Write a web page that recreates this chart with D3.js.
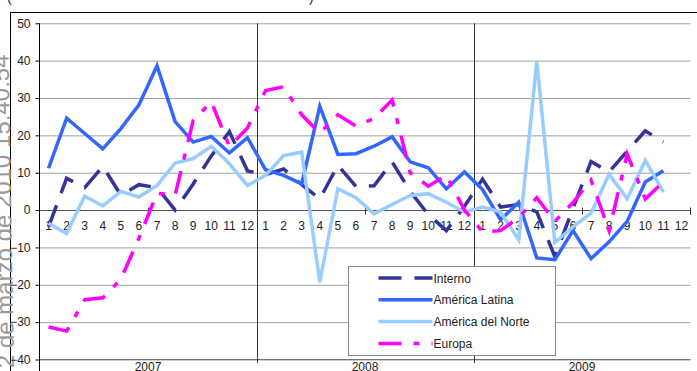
<!DOCTYPE html>
<html>
<head>
<meta charset="utf-8">
<script src="https://cdn.jsdelivr.net/npm/d3@7"></script>
<style>
  body { margin: 0; background: #fff; }
  svg text { font-family: "Liberation Sans", Arial, sans-serif; }
</style>
</head>
<body>
<div id="chart"></div>
<script>
// Data (monthly, Jan 2007 .. Dec 2009)
var years = ["2007", "2008", "2009"];
var months = ["1","2","3","4","5","6","7","8","9","10","11","12"];
var yTicks = [-40, -30, -20, -10, 0, 10, 20, 30, 40, 50];

var interno = [-4.5, 8.5, 6, 11.7, 4, 6.8, 6, 0, 7, 14.5, 21, 10.5,
               9.5, 11, 6.8, 3, 12, 6.3, 6.5, 12.9, 5, -1.2, -5.5, 1,
               8.3, 0.8, 1.5, -0.5, -12.5, 0.5, 13, 10.2, 15.8, 21.2, 18.2, null];
var latina = [11.2, 24.6, 20.5, 16.4, 21.8, 28.2, 38.6, 23.7, 18.2, 19.7, 15.3, 19.4,
              10.8, 9.3, 7, 27.8, 14.9, 15.1, 17.1, 19.6, 12.9, 11.3, 5.7, 10.2,
              5.5, -2.6, 2.1, -12.8, -13.3, -5.5, -13, -8.5, -3, 7.5, 10.5, null];
var norte = [-3.5, -6.3, 3.7, 1.1, 5, 3.5, 6.6, 12.6, 13.8, 17.1, 12.4, 6.6,
             9.3, 14.6, 15.5, -19.3, 5.7, 3.3, -1, 1.5, 3.9, 4.4, 2.1, -0.5,
             0.8, -0.5, -8, 39.8, -8.7, -4.5, -0.8, 9.6, 3, 13.3, 4.8, null];
var europa = [-31.3, -32.4, -24, -23.5, -18.5, -7.5, 4.5, 4, 24, 29, 17, 22,
              32, 33, 25.5, 20.6, 25.5, 22.5, 24.5, 29.5, 10, 6.4, 9.3, 0,
              -5.8, -5.5, -2, 3.3, -3, 2, 8, -5.5, 15, 3, 7.5, null];

var seriesNames = ["Interno", "América Latina", "América del Norte", "Europa"];
var seriesData = [interno, latina, norte, europa];
var seriesColors = ["#333399", "#3366ff", "#99ccff", "#ff00ff"];
var seriesDash = ["23,13", null, null, "23,12,6,12"];

function init() {

    var width = 697, height = 371;
    var left = 39.5, right = 690.5, top = 23.3, bottom = 359.5;

    var svg = d3.select("#chart")
        .append("svg")
        .attr("width", width)
        .attr("height", height);

    // categories 0..35
    var cats = d3.range(years.length * months.length);

    var xScale = d3.scaleBand()
        .domain(cats)
        .range([left, right])
        .paddingInner(0).paddingOuter(0);

    var yScale = d3.scaleLinear()
        .domain([-40, 50])
        .range([bottom, top]);

    var xMid = function(i) { return xScale(i) + xScale.bandwidth() / 2; };

    // title remnant at the very top (cut off)
    svg.append("text").attr("x", 7).attr("y", 2).style("font-size", "14px").attr("fill", "#222").text("(");
    svg.append("text").attr("x", 309).attr("y", 2).style("font-size", "14px").attr("fill", "#222").text(")");

    // chart area border
    svg.append("rect")
        .attr("x", 10.5).attr("y", 12.5)
        .attr("width", 700).attr("height", 400)
        .attr("fill", "none")
        .attr("stroke", "#000");

    // watermark date stamp on the left
    svg.append("text")
        .attr("transform", "translate(14,368) rotate(-91)")
        .style("font-size", "24px")
        .attr("fill", "#9a9a9a")
        .text("2 de marzo de 2010 15:40:54");

    // gridlines
    var grid = d3.axisLeft(yScale).tickValues(yTicks).tickSize(-(right - left)).tickFormat("");
    svg.append("g")
        .attr("class", "grid")
        .attr("transform", "translate(" + left + ",0)")
        .call(grid)
        .call(function(g) {
            g.select(".domain").remove();
            g.selectAll("line").attr("stroke", "#a0a0a0");
        });

    // bottom line a bit darker
    svg.append("line")
        .attr("x1", left).attr("x2", right)
        .attr("y1", yScale(-40)).attr("y2", yScale(-40))
        .attr("stroke", "#707070");

    // year separators
    svg.selectAll(".sep")
        .data([12, 24])
        .enter().append("line")
        .attr("class", "sep")
        .attr("x1", function(d) { return Math.round(xScale(d)) + 0.5; })
        .attr("x2", function(d) { return Math.round(xScale(d)) + 0.5; })
        .attr("y1", top).attr("y2", 363)
        .attr("stroke", "#333");

    // Y axis
    var yAxis = d3.axisLeft(yScale).tickValues(yTicks).tickSize(4).tickPadding(5);
    svg.append("g")
        .attr("class", "y axis")
        .attr("transform", "translate(" + left + ",0)")
        .call(yAxis)
        .call(function(g) {
            g.select(".domain").remove();
            g.selectAll("line").attr("stroke", "#000");
            g.selectAll("text").style("font-size", "12px").attr("fill", "#222");
        });
    svg.append("line")
        .attr("x1", left).attr("x2", left)
        .attr("y1", top).attr("y2", 371)
        .attr("stroke", "#000");

    // zero axis with month labels
    var y0 = Math.round(yScale(0)) + 0.5;
    svg.append("line")
        .attr("x1", left).attr("x2", right)
        .attr("y1", y0).attr("y2", y0)
        .attr("stroke", "#555");

    svg.selectAll(".xtick")
        .data([6, 18, 30, 36])
        .enter().append("line")
        .attr("class", "xtick")
        .attr("x1", function(d) { return d < 36 ? Math.round(xScale(d)) + 0.5 : right; })
        .attr("x2", function(d) { return d < 36 ? Math.round(xScale(d)) + 0.5 : right; })
        .attr("y1", y0 - 3).attr("y2", y0 + 4)
        .attr("stroke", "#333");

    svg.selectAll(".month")
        .data(cats)
        .enter().append("text")
        .attr("class", "month")
        .attr("x", function(d) { return xMid(d); })
        .attr("y", 230)
        .attr("text-anchor", "middle")
        .style("font-size", "12px")
        .attr("fill", "#222")
        .text(function(d) { return months[d % 12]; });

    // year labels
    svg.selectAll(".year")
        .data(years)
        .enter().append("text")
        .attr("class", "year")
        .attr("x", function(d, i) { return (xScale(i * 12) + xScale(i * 12 + 11) + xScale.bandwidth()) / 2; })
        .attr("y", 371)
        .attr("text-anchor", "middle")
        .style("font-size", "12px")
        .attr("fill", "#222")
        .text(function(d) { return d; });

    // series lines
    var valueline = d3.line()
        .defined(function(d) { return d != null; })
        .x(function(d, i) { return xMid(i); })
        .y(function(d) { return yScale(d); });

    seriesData.forEach(function(s, k) {
        svg.append("path")
            .datum(s)
            .attr("class", "line")
            .attr("fill", "none")
            .attr("stroke", seriesColors[k])
            .attr("stroke-width", 3.5)
            .attr("stroke-linejoin", "miter")
            .attr("stroke-dasharray", seriesDash[k])
            .attr("d", valueline);
    });

    // legend
    var legend = svg.append("g")
        .attr("class", "legend")
        .attr("transform", "translate(348.5,266.5)");

    legend.append("rect")
        .attr("width", 207).attr("height", 89)
        .attr("fill", "#fff")
        .attr("stroke", "#8a8a8a");

    var items = legend.selectAll(".item")
        .data(seriesNames)
        .enter().append("g")
        .attr("class", "item")
        .attr("transform", function(d, i) { return "translate(0," + (11.5 + i * 21.8) + ")"; });

    items.append("line")
        .attr("x1", 30).attr("x2", 84)
        .attr("stroke", function(d, i) { return seriesColors[i]; })
        .attr("stroke-width", 3.5)
        .attr("stroke-dasharray", function(d, i) { return seriesDash[i]; });

    items.append("text")
        .attr("x", 85)
        .attr("y", 4.5)
        .style("font-size", "12px")
        .attr("fill", "#222")
        .text(function(d) { return d; });
}

window.onload = init;
</script>
</body>
</html>
